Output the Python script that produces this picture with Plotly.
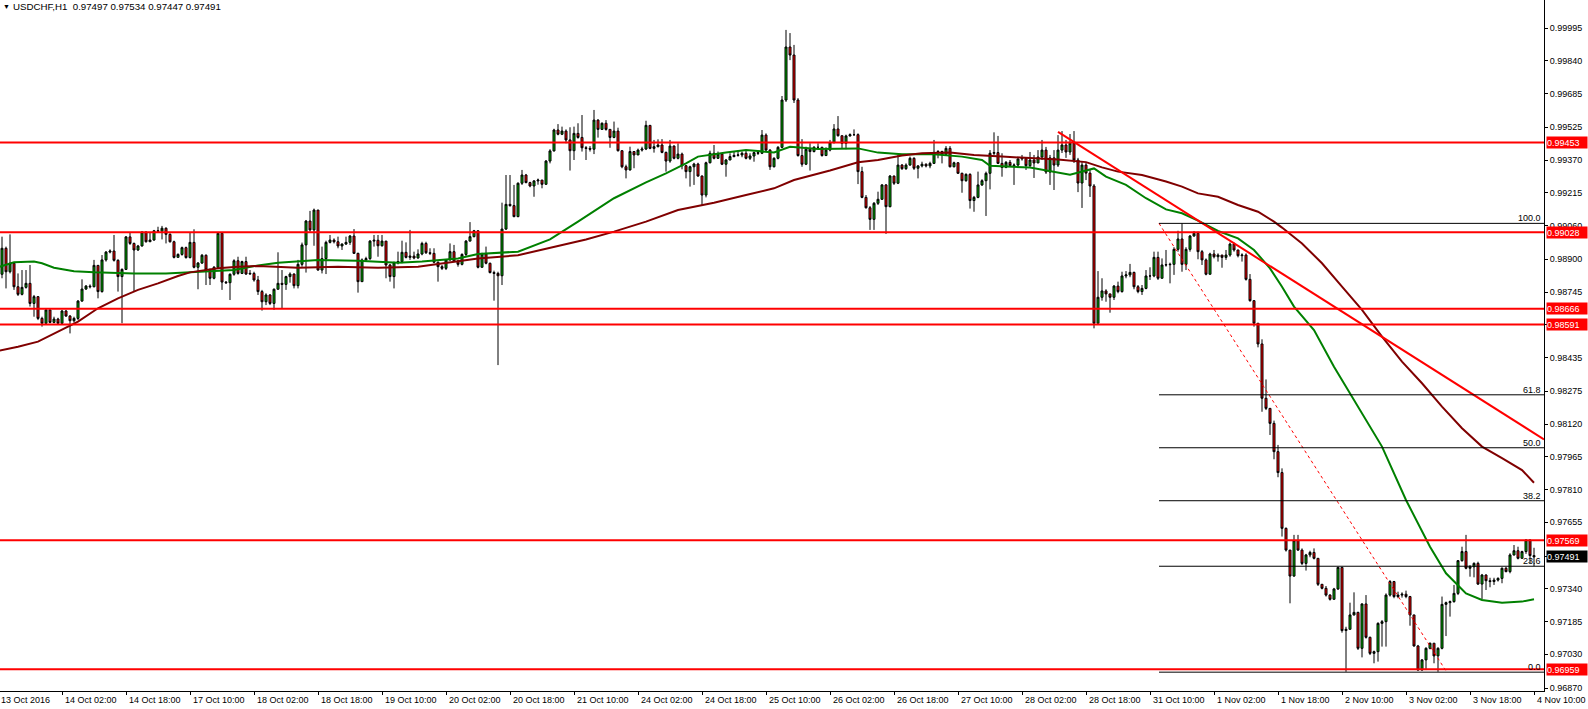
import plotly.graph_objects as go

# ---------------- data (hourly USDCHF bars, index 0 = 13 Oct 10:00) ----------------
first_open = 0.98845

closes = [
    0.98829, 0.98952, 0.98841, 0.98881, 0.98770, 0.98734, 0.98767, 0.98786, 0.98691, 0.98723,
    0.98620, 0.98597, 0.98660, 0.98601, 0.98617, 0.98597, 0.98655, 0.98631, 0.98609, 0.98620,
    0.98702, 0.98759, 0.98773, 0.98770, 0.98871, 0.98747, 0.98897, 0.98934, 0.98939, 0.98895,
    0.98818, 0.98852, 0.99006, 0.98975, 0.98944, 0.98963, 0.99029, 0.98983, 0.98991, 0.99035,
    0.99033, 0.99047, 0.99018, 0.98983, 0.98909, 0.98923, 0.98955, 0.98908, 0.98980, 0.98862,
    0.98882, 0.98919, 0.98849, 0.98810, 0.98862, 0.99023, 0.98792, 0.98789, 0.98829, 0.98893,
    0.98833, 0.98889, 0.98830, 0.98833, 0.98802,
    0.98747, 0.98699, 0.98731, 0.98691, 0.98758, 0.98786, 0.98781, 0.98818, 0.98830, 0.98775,
    0.98876, 0.98968, 0.99081, 0.99039, 0.99133, 0.98849, 0.98903, 0.98980, 0.98991, 0.98983,
    0.98963, 0.98972, 0.98980, 0.99010, 0.98928, 0.98794, 0.98897, 0.98903, 0.98986, 0.98990,
    0.98964, 0.98986, 0.98873, 0.98818, 0.98884, 0.98889, 0.98933, 0.98909, 0.98915, 0.98906,
    0.98925, 0.98975, 0.98931, 0.98928, 0.98886, 0.98865, 0.98857, 0.98897, 0.98936, 0.98892,
    0.98876, 0.98923, 0.98986, 0.99007, 0.99035, 0.98862, 0.98925, 0.98881, 0.98837, 0.98833,
    0.98822, 0.99043, 0.99160, 0.99154,
    0.99102, 0.99260, 0.99299, 0.99263, 0.99247, 0.99271, 0.99275, 0.99255, 0.99365, 0.99413,
    0.99512, 0.99492, 0.99507, 0.99465, 0.99414, 0.99496, 0.99477, 0.99428, 0.99425, 0.99421,
    0.99559, 0.99515, 0.99544, 0.99515, 0.99477, 0.99507, 0.99414, 0.99338, 0.99323, 0.99410,
    0.99394, 0.99417, 0.99422, 0.99534, 0.99425, 0.99433, 0.99441, 0.99406, 0.99365, 0.99436,
    0.99378, 0.99398, 0.99343, 0.99315, 0.99338, 0.99351, 0.99294, 0.99204, 0.99357, 0.99402,
    0.99378, 0.99398, 0.99350, 0.99370, 0.99386, 0.99392, 0.99394, 0.99402, 0.99378, 0.99389,
    0.99405, 0.99402, 0.99488, 0.99417, 0.99338,
    0.99378, 0.99430, 0.99654, 0.99905, 0.99867, 0.99654, 0.99391, 0.99350, 0.99421, 0.99410,
    0.99430, 0.99430, 0.99391, 0.99417, 0.99452, 0.99517, 0.99485, 0.99449, 0.99484, 0.99490,
    0.99490, 0.99315, 0.99193, 0.99144, 0.99089, 0.99165, 0.99184, 0.99252, 0.99149, 0.99294,
    0.99260, 0.99346, 0.99329, 0.99346, 0.99378, 0.99331, 0.99342, 0.99350, 0.99342, 0.99354,
    0.99406, 0.99410, 0.99397, 0.99425, 0.99338, 0.99357, 0.99307, 0.99272, 0.99302, 0.99178,
    0.99193, 0.99252, 0.99272, 0.99307, 0.99402, 0.99405, 0.99354, 0.99335, 0.99359, 0.99343,
    0.99346, 0.99375, 0.99378, 0.99343,
    0.99370, 0.99356, 0.99384, 0.99417, 0.99313, 0.99380, 0.99346, 0.99417, 0.99441, 0.99408,
    0.99450, 0.99370, 0.99261, 0.99346, 0.99308, 0.99247,
    0.98597, 0.98720, 0.98750, 0.98736, 0.98720, 0.98773, 0.98747, 0.98821, 0.98826, 0.98838,
    0.98770, 0.98747, 0.98762, 0.98821, 0.98821, 0.98909, 0.98810, 0.98873, 0.98874, 0.98876,
    0.98947, 0.98996, 0.98876, 0.98947, 0.99010, 0.99023, 0.98936, 0.98897, 0.98829, 0.98925,
    0.98912, 0.98920, 0.98909, 0.98920, 0.98972, 0.98944, 0.98917, 0.98920, 0.98805, 0.98704,
    0.98597, 0.98499, 0.98242, 0.98194, 0.98123, 0.97989, 0.97890, 0.97626,
    0.97523, 0.97400, 0.97568, 0.97523, 0.97460, 0.97500, 0.97512, 0.97484, 0.97361, 0.97342,
    0.97310, 0.97290, 0.97339, 0.97441, 0.97142, 0.97148, 0.97216, 0.97228, 0.97058, 0.97268,
    0.97110, 0.97034, 0.97042, 0.97176, 0.97184, 0.97310, 0.97374, 0.97303, 0.97310, 0.97314,
    0.97303, 0.97216, 0.97069, 0.96955, 0.97003, 0.97058, 0.97082, 0.97022, 0.97058, 0.97266,
    0.97274, 0.97279, 0.97318, 0.97473, 0.97516, 0.97437, 0.97444, 0.97460, 0.97362, 0.97405,
    0.97378, 0.97374, 0.97381, 0.97389, 0.97437, 0.97421, 0.97500, 0.97520, 0.97484, 0.97516,
    0.97571, 0.97497, 0.97491,
]

highs = [
    0.98849, 0.99007, 0.98960, 0.99018, 0.98881, 0.98833, 0.98849, 0.98849, 0.98873, 0.98731,
    0.98726, 0.98628, 0.98666, 0.98663, 0.98628, 0.98623, 0.98660, 0.98660, 0.98636, 0.98628,
    0.98707, 0.98805, 0.98778, 0.98781, 0.98897, 0.98873, 0.98920, 0.98939, 0.98947, 0.99015,
    0.98900, 0.98857, 0.99010, 0.99026, 0.98979, 0.98968, 0.99032, 0.99032, 0.99026, 0.99039,
    0.99054, 0.99058, 0.99051, 0.99023, 0.98988, 0.98928, 0.98960, 0.98960, 0.99026, 0.99042,
    0.98887, 0.98925, 0.98923, 0.98856, 0.98868, 0.99026, 0.99026, 0.98797, 0.98833, 0.98900,
    0.98912, 0.98893, 0.98912, 0.98849, 0.98841,
    0.98821, 0.98755, 0.98739, 0.98735, 0.98762, 0.98933, 0.98849, 0.98822, 0.98838, 0.98833,
    0.98897, 0.98979, 0.99086, 0.99129, 0.99140, 0.99133, 0.98960, 0.98988, 0.99015, 0.98999,
    0.99007, 0.98975, 0.99007, 0.99015, 0.99043, 0.98931, 0.98904, 0.98912, 0.98991, 0.99015,
    0.99015, 0.99015, 0.98983, 0.98878, 0.98889, 0.98936, 0.98988, 0.98980, 0.99039, 0.98936,
    0.98947, 0.98983, 0.98983, 0.98952, 0.98952, 0.98889, 0.98873, 0.98901, 0.98975, 0.98968,
    0.98897, 0.98928, 0.98991, 0.99076, 0.99039, 0.99035, 0.98931, 0.98960, 0.98884, 0.98846,
    0.98841, 0.99168, 0.99299, 0.99299,
    0.99252, 0.99264, 0.99323, 0.99304, 0.99267, 0.99275, 0.99282, 0.99271, 0.99370, 0.99421,
    0.99518, 0.99540, 0.99528, 0.99515, 0.99525, 0.99528, 0.99544, 0.99583, 0.99436, 0.99436,
    0.99607, 0.99563, 0.99548, 0.99559, 0.99512, 0.99552, 0.99523, 0.99417, 0.99348, 0.99433,
    0.99406, 0.99424, 0.99433, 0.99556, 0.99531, 0.99465, 0.99468, 0.99469, 0.99410, 0.99465,
    0.99439, 0.99449, 0.99405, 0.99346, 0.99343, 0.99357, 0.99357, 0.99297, 0.99362, 0.99414,
    0.99441, 0.99410, 0.99402, 0.99375, 0.99402, 0.99410, 0.99417, 0.99410, 0.99417, 0.99402,
    0.99410, 0.99413, 0.99512, 0.99496, 0.99421,
    0.99383, 0.99436, 0.99673, 0.99986, 0.99971, 0.99915, 0.99663, 0.99469, 0.99433, 0.99449,
    0.99436, 0.99449, 0.99433, 0.99430, 0.99465, 0.99540, 0.99578, 0.99482, 0.99490, 0.99496,
    0.99515, 0.99496, 0.99338, 0.99204, 0.99152, 0.99171, 0.99220, 0.99256, 0.99256, 0.99299,
    0.99296, 0.99394, 0.99351, 0.99354, 0.99386, 0.99383, 0.99346, 0.99362, 0.99354, 0.99362,
    0.99465, 0.99417, 0.99414, 0.99436, 0.99436, 0.99362, 0.99359, 0.99310, 0.99307, 0.99307,
    0.99200, 0.99315, 0.99279, 0.99315, 0.99417, 0.99501, 0.99484, 0.99402, 0.99365, 0.99370,
    0.99354, 0.99381, 0.99394, 0.99381,
    0.99408, 0.99394, 0.99417, 0.99465, 0.99432, 0.99394, 0.99417, 0.99488, 0.99507, 0.99465,
    0.99493, 0.99507, 0.99380, 0.99361, 0.99356, 0.99323,
    0.99256, 0.98844, 0.98810, 0.98758, 0.98726, 0.98778, 0.98794, 0.98841, 0.98844, 0.98878,
    0.98841, 0.98778, 0.98778, 0.98849, 0.98862, 0.98936, 0.98936, 0.98904, 0.98944, 0.98884,
    0.98957, 0.99035, 0.99070, 0.98957, 0.99015, 0.99034, 0.99031, 0.98944, 0.98904, 0.98931,
    0.98944, 0.98928, 0.98920, 0.98944, 0.98979, 0.98979, 0.98944, 0.98928, 0.98928, 0.98830,
    0.98707, 0.98597, 0.98521, 0.98331, 0.98194, 0.98136, 0.98021, 0.97910,
    0.97630, 0.97523, 0.97595, 0.97595, 0.97531, 0.97505, 0.97520, 0.97531, 0.97484, 0.97362,
    0.97353, 0.97314, 0.97344, 0.97444, 0.97444, 0.97160, 0.97274, 0.97323, 0.97231, 0.97271,
    0.97310, 0.97113, 0.97047, 0.97181, 0.97192, 0.97318, 0.97381, 0.97377, 0.97326, 0.97323,
    0.97331, 0.97306, 0.97208, 0.97074, 0.97007, 0.97063, 0.97085, 0.97082, 0.97063, 0.97303,
    0.97279, 0.97284, 0.97358, 0.97476, 0.97539, 0.97595, 0.97452, 0.97465, 0.97468, 0.97410,
    0.97408, 0.97392, 0.97392, 0.97394, 0.97441, 0.97444, 0.97508, 0.97547, 0.97539, 0.97520,
    0.97574, 0.97574, 0.97534,
]

lows = [
    0.98810, 0.98810, 0.98762, 0.98833, 0.98755, 0.98726, 0.98729, 0.98761, 0.98676, 0.98628,
    0.98612, 0.98581, 0.98593, 0.98597, 0.98597, 0.98590, 0.98593, 0.98628, 0.98549, 0.98600,
    0.98612, 0.98699, 0.98755, 0.98762, 0.98767, 0.98715, 0.98742, 0.98889, 0.98928, 0.98889,
    0.98747, 0.98597, 0.98849, 0.98968, 0.98747, 0.98939, 0.98960, 0.98979, 0.98983, 0.98988,
    0.99031, 0.98994, 0.98975, 0.98979, 0.98904, 0.98912, 0.98917, 0.98903, 0.98904, 0.98857,
    0.98758, 0.98878, 0.98778, 0.98778, 0.98805, 0.98859, 0.98755, 0.98783, 0.98707, 0.98822,
    0.98827, 0.98830, 0.98826, 0.98827, 0.98794,
    0.98731, 0.98657, 0.98683, 0.98683, 0.98660, 0.98758, 0.98668, 0.98755, 0.98789, 0.98762,
    0.98762, 0.98865, 0.98837, 0.99031, 0.98964, 0.98846, 0.98833, 0.98830, 0.98975, 0.98975,
    0.98952, 0.98944, 0.98968, 0.98968, 0.98925, 0.98742, 0.98794, 0.98893, 0.98897, 0.98960,
    0.98912, 0.98960, 0.98810, 0.98794, 0.98762, 0.98876, 0.98881, 0.98904, 0.98897, 0.98900,
    0.98903, 0.98919, 0.98925, 0.98920, 0.98881, 0.98794, 0.98849, 0.98849, 0.98893, 0.98887,
    0.98865, 0.98871, 0.98915, 0.98985, 0.99004, 0.98857, 0.98865, 0.98876, 0.98833, 0.98704,
    0.98399, 0.98778, 0.99039, 0.99149,
    0.99099, 0.99099, 0.99252, 0.99260, 0.99241, 0.99196, 0.99253, 0.99236, 0.99252, 0.99354,
    0.99410, 0.99487, 0.99488, 0.99449, 0.99320, 0.99370, 0.99471, 0.99410, 0.99370, 0.99410,
    0.99398, 0.99476, 0.99512, 0.99509, 0.99428, 0.99473, 0.99410, 0.99331, 0.99283, 0.99320,
    0.99331, 0.99398, 0.99410, 0.99417, 0.99421, 0.99405, 0.99430, 0.99402, 0.99315, 0.99357,
    0.99373, 0.99373, 0.99326, 0.99283, 0.99244, 0.99252, 0.99291, 0.99157, 0.99193, 0.99354,
    0.99373, 0.99375, 0.99346, 0.99291, 0.99373, 0.99383, 0.99386, 0.99383, 0.99373, 0.99370,
    0.99362, 0.99394, 0.99398, 0.99413, 0.99323,
    0.99335, 0.99373, 0.99427, 0.99645, 0.99843, 0.99640, 0.99386, 0.99338, 0.99346, 0.99320,
    0.99406, 0.99425, 0.99386, 0.99389, 0.99411, 0.99449, 0.99481, 0.99425, 0.99421, 0.99481,
    0.99484, 0.99256, 0.99189, 0.99140, 0.99039, 0.99039, 0.99157, 0.99181, 0.99020, 0.99146,
    0.99252, 0.99256, 0.99323, 0.99323, 0.99343, 0.99323, 0.99283, 0.99335, 0.99335, 0.99331,
    0.99351, 0.99378, 0.99354, 0.99394, 0.99335, 0.99335, 0.99304, 0.99215, 0.99267, 0.99140,
    0.99125, 0.99189, 0.99247, 0.99105, 0.99231, 0.99394, 0.99351, 0.99291, 0.99331, 0.99338,
    0.99252, 0.99335, 0.99367, 0.99323,
    0.99332, 0.99285, 0.99361, 0.99370, 0.99304, 0.99252, 0.99228, 0.99337, 0.99403, 0.99380,
    0.99394, 0.99356, 0.99218, 0.99143, 0.99275, 0.99195,
    0.98573, 0.98623, 0.98704, 0.98699, 0.98647, 0.98707, 0.98739, 0.98742, 0.98810, 0.98815,
    0.98758, 0.98739, 0.98731, 0.98758, 0.98802, 0.98815, 0.98802, 0.98821, 0.98865, 0.98786,
    0.98826, 0.98936, 0.98841, 0.98849, 0.98936, 0.99007, 0.98900, 0.98873, 0.98824, 0.98865,
    0.98904, 0.98889, 0.98860, 0.98897, 0.98912, 0.98936, 0.98909, 0.98889, 0.98799, 0.98699,
    0.98581, 0.98483, 0.98178, 0.98186, 0.98068, 0.97953, 0.97868, 0.97587,
    0.97516, 0.97271, 0.97397, 0.97519, 0.97452, 0.97426, 0.97489, 0.97479, 0.97353, 0.97337,
    0.97303, 0.97284, 0.97290, 0.97334, 0.97132, 0.96947, 0.97157, 0.97213, 0.97050, 0.97015,
    0.97104, 0.97026, 0.96987, 0.96995, 0.97066, 0.97066, 0.97303, 0.97295, 0.97295, 0.97298,
    0.97295, 0.97165, 0.97066, 0.96952, 0.96952, 0.96955, 0.97053, 0.96987, 0.96947, 0.97053,
    0.97116, 0.97208, 0.97274, 0.97310, 0.97468, 0.97432, 0.97397, 0.97394, 0.97358, 0.97290,
    0.97334, 0.97347, 0.97358, 0.97374, 0.97366, 0.97418, 0.97413, 0.97497, 0.97479, 0.97489,
    0.97505, 0.97460, 0.97447,
]

# moving averages (bar index, value)
ma_fast_idx = [0, 4, 9, 11, 14, 19, 24, 34, 42, 47, 59, 65, 70, 80, 90, 100, 106, 115, 120, 130,
               138, 145, 154, 162, 167, 172, 175, 182, 187, 194, 198, 205, 215, 220, 226, 234, 241,
               246, 248, 258, 262, 268, 274, 277, 282, 287, 292, 296, 300, 305, 310, 314, 318, 321,
               324, 329, 334, 339, 346, 352, 358, 362, 367, 371, 376, 381, 384]
ma_fast_val = [0.98862, 0.98886, 0.98889, 0.98881, 0.98860, 0.98843, 0.98838, 0.98833, 0.98833,
               0.98838, 0.98849, 0.98871, 0.98884, 0.98897, 0.98893, 0.98884, 0.98890, 0.98904,
               0.98925, 0.98936, 0.98994, 0.99078, 0.99189, 0.99264, 0.99307, 0.99354, 0.99386,
               0.99406, 0.99417, 0.99406, 0.99433, 0.99422, 0.99425, 0.99405, 0.99397, 0.99397,
               0.99386, 0.99370, 0.99343, 0.99334, 0.99320, 0.99300, 0.99330, 0.99291, 0.99252,
               0.99189, 0.99136, 0.99118, 0.99083, 0.99034, 0.98999, 0.98944, 0.98857, 0.98770,
               0.98676, 0.98565, 0.98391, 0.98234, 0.98013, 0.97760, 0.97539, 0.97413, 0.97318,
               0.97287, 0.97274, 0.97279, 0.97290]
ma_slow_idx = [0, 5, 10, 15, 20, 25, 30, 35, 40, 45, 48, 55, 60, 65, 75, 85, 95, 105, 111, 120,
               130, 147, 154, 162, 170, 179, 187, 194, 199, 208, 215, 220, 226, 231, 238, 244, 251,
               258, 265, 272, 276, 280, 286, 292, 296, 300, 305, 310, 315, 319, 321, 326, 331, 336,
               341, 346, 351, 356, 361, 366, 371, 376, 381, 384]
ma_slow_val = [0.98466, 0.98486, 0.98510, 0.98557, 0.98605, 0.98668, 0.98715, 0.98755, 0.98786,
               0.98821, 0.98838, 0.98857, 0.98865, 0.98868, 0.98860, 0.98865, 0.98860, 0.98865,
               0.98881, 0.98904, 0.98919, 0.98994, 0.99031, 0.99078, 0.99133, 0.99168, 0.99204,
               0.99236, 0.99275, 0.99320, 0.99359, 0.99370, 0.99391, 0.99402, 0.99405, 0.99394,
               0.99386, 0.99378, 0.99372, 0.99360, 0.99335, 0.99315, 0.99299, 0.99268, 0.99244,
               0.99212, 0.99196, 0.99157, 0.99125, 0.99078, 0.99050, 0.98975, 0.98881, 0.98770,
               0.98660, 0.98534, 0.98415, 0.98313, 0.98202, 0.98100, 0.98013, 0.97958, 0.97902,
               0.97842]

# horizontal support / resistance levels
levels = [0.99453, 0.99028, 0.98666, 0.98591, 0.97569, 0.96959]
last_price = 0.97491

# trend line anchors (bar index, price)
trend_idx = [265, 386.5]
trend_val = [0.99503, 0.98047]

# Fibonacci retracement anchors
fib_start_idx, fib_end_idx = 290.25, 362.2
fib_high, fib_low = 0.99070, 0.96945
fib_ratios = [1.0, 0.618, 0.5, 0.382, 0.236, 0.0]
fib_texts = ["100.0", "61.8", "50.0", "38.2", "23.6", "0.0"]

y_ticks = [0.96870, 0.97030, 0.97185, 0.97340, 0.97495, 0.97655, 0.97810, 0.97965, 0.98120,
           0.98275, 0.98435, 0.98590, 0.98745, 0.98900, 0.99060, 0.99215, 0.99370, 0.99525,
           0.99685, 0.99840, 0.99995]

x_tick_idx = list(range(0, 385, 16))
x_tick_text = ["13 Oct 2016", "14 Oct 02:00", "14 Oct 18:00", "17 Oct 10:00", "18 Oct 02:00",
               "18 Oct 18:00", "19 Oct 10:00", "20 Oct 02:00", "20 Oct 18:00", "21 Oct 10:00",
               "24 Oct 02:00", "24 Oct 18:00", "25 Oct 10:00", "26 Oct 02:00", "26 Oct 18:00",
               "27 Oct 10:00", "28 Oct 02:00", "28 Oct 18:00", "31 Oct 10:00", "1 Nov 02:00",
               "1 Nov 18:00", "2 Nov 10:00", "3 Nov 02:00", "3 Nov 18:00", "4 Nov 10:00"]

title_text = "USDCHF,H1\u00a0\u00a00.97497 0.97534 0.97447 0.97491"

# ---------------- build ----------------
n = len(closes)
idx = list(range(n))
opens = [first_open] + closes[:-1]
hi = [max(h, o, c) for h, o, c in zip(highs, opens, closes)]
lo = [min(l, o, c) for l, o, c in zip(lows, opens, closes)]

FONT = "Liberation Sans"
GREEN_CANDLE = "#00B000"
GREEN_MA = "#008000"
MAROON = "#800000"
RED = "#FF0000"

fig = go.Figure()

fig.add_trace(go.Candlestick(
    x=idx, open=opens, high=hi, low=lo, close=closes,
    increasing=dict(fillcolor=GREEN_CANDLE, line=dict(color="black", width=1)),
    decreasing=dict(fillcolor=RED, line=dict(color="black", width=1)),
    whiskerwidth=0, hoverinfo="skip", showlegend=False,
))

fig.add_trace(go.Scatter(x=ma_fast_idx, y=ma_fast_val, mode="lines",
                         line=dict(color=GREEN_MA, width=2), hoverinfo="skip", showlegend=False))
fig.add_trace(go.Scatter(x=ma_slow_idx, y=ma_slow_val, mode="lines",
                         line=dict(color=MAROON, width=2), hoverinfo="skip", showlegend=False))

# trend line
fig.add_trace(go.Scatter(x=trend_idx, y=trend_val, mode="lines",
                         line=dict(color=RED, width=2), hoverinfo="skip", showlegend=False))
# fib diagonal
fig.add_trace(go.Scatter(x=[fib_start_idx, fib_end_idx], y=[fib_high, fib_low], mode="lines",
                         line=dict(color=RED, width=1, dash="dot"), hoverinfo="skip", showlegend=False))

x_min, x_max = 0.5, 386.5
y_min, y_max = 0.968558, 1.001276


def xpaper(i):
    return (i - x_min) / (x_max - x_min)


shapes = []
for lv in levels:
    shapes.append(dict(type="line", xref="paper", x0=0, x1=1, yref="y", y0=lv, y1=lv,
                       line=dict(color=RED, width=2)))
annotations = []
for r, t in zip(fib_ratios, fib_texts):
    lv = fib_low + r * (fib_high - fib_low)
    shapes.append(dict(type="line", xref="x", x0=fib_start_idx, x1=x_max, yref="y", y0=lv, y1=lv,
                       line=dict(color="black", width=1)))
    annotations.append(dict(x=1, y=lv, xref="paper", yref="y", text=t, showarrow=False,
                            xanchor="right", yanchor="bottom", xshift=-1, yshift=-2,
                            font=dict(family=FONT, size=9, color="black")))

# price tags on the right axis
for lv in levels:
    annotations.append(dict(x=1, y=lv, xref="paper", yref="y", text=f"{lv:.5f}", showarrow=False,
                            xanchor="left", yanchor="middle", xshift=2, width=40, height=11,
                            align="left", bgcolor=RED, borderpad=0,
                            font=dict(family=FONT, size=9, color="white")))
annotations.append(dict(x=1, y=last_price, xref="paper", yref="y", text=f"{last_price:.5f}",
                        showarrow=False, xanchor="left", yanchor="middle", xshift=2, width=40,
                        height=11, align="left", bgcolor="black", borderpad=0,
                        font=dict(family=FONT, size=9, color="white")))

# time labels (left-aligned at their tick like the terminal does)
for i, t in zip(x_tick_idx, x_tick_text):
    annotations.append(dict(x=xpaper(i), y=0, xref="paper", yref="paper", text=t, showarrow=False,
                            xanchor="left", yanchor="top", xshift=1, yshift=-2,
                            font=dict(family=FONT, size=9, color="black")))

# header
annotations.append(dict(x=0, y=1, xref="paper", yref="paper", text="\u25bc", showarrow=False,
                        xanchor="left", yanchor="top", xshift=1, yshift=-1,
                        font=dict(family=FONT, size=7, color="black")))
annotations.append(dict(x=0, y=1, xref="paper", yref="paper", text=title_text, showarrow=False,
                        xanchor="left", yanchor="top", xshift=11, yshift=1,
                        font=dict(family=FONT, size=9.7, color="black")))

fig.update_layout(
    width=1588, height=709,
    margin=dict(l=0, r=44, t=0, b=18, pad=0),
    paper_bgcolor="white", plot_bgcolor="white",
    showlegend=False, hovermode=False,
    boxgap=0.5, boxgroupgap=0,
    shapes=shapes, annotations=annotations,
    font=dict(family=FONT, size=9, color="black"),
    xaxis=dict(range=[x_min, x_max], showgrid=False, zeroline=False, showline=True,
               linecolor="black", linewidth=1, ticks="outside", ticklen=3, tickcolor="black",
               tickvals=x_tick_idx, showticklabels=False, rangeslider=dict(visible=False),
               fixedrange=True),
    yaxis=dict(range=[y_min, y_max], side="right", showgrid=False, zeroline=False, showline=True,
               linecolor="black", linewidth=1, ticks="outside", ticklen=3, tickcolor="black",
               tickvals=y_ticks, ticktext=[f"{v:.5f}" for v in y_ticks],
               tickfont=dict(family=FONT, size=9, color="black"), fixedrange=True),
)

fig.write_html("out.html", config={"displayModeBar": False},
               post_script="document.body.style.margin='0';document.body.style.overflow='hidden';")
